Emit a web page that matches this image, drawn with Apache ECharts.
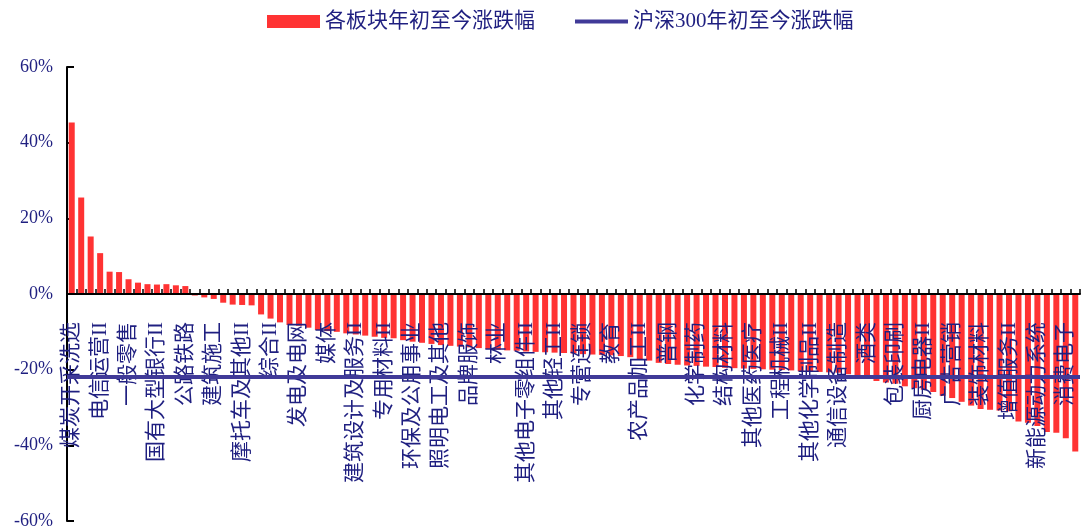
<!DOCTYPE html>
<html>
<head>
<meta charset="utf-8">
<script src="https://cdn.jsdelivr.net/npm/echarts@6/dist/echarts.min.js"></script>
<style>
  html, body { margin: 0; padding: 0; background: #ffffff; }
  #chart { width: 1082px; height: 532px; }
</style>
</head>
<body>
<div id="chart"></div>
<script>
// Industry names printed on the axis (every third sector)
const labelNames = [
  '煤炭开采洗选', '电信运营II', '一般零售', '国有大型银行II', '公路铁路', '建筑施工',
  '摩托车及其他II', '综合II', '发电及电网', '媒体', '建筑设计及服务II', '专用材料II',
  '环保及公用事业', '照明电工及其他', '品牌服饰', '林业', '其他电子零组件II', '其他轻工II',
  '专营连锁', '教育', '农产品加工II', '普钢', '化学制药', '结构材料',
  '其他医药医疗', '工程机械II', '其他化学制品II', '通信设备制造', '酒类', '包装印刷',
  '厨房电器II', '广告营销', '装饰材料', '增值服务II', '新能源动力系统', '消费电子'
];

// Year-to-date change of each sector (%), sorted from best to worst
const sectorChange = [
  45.3, 25.5, 15.2, 10.8, 5.9, 5.8, 3.9, 3.0, 2.6, 2.5,
  2.6, 2.3, 2.1, -0.4, -0.9, -1.3, -2.3, -2.8, -2.9, -3.0,
  -5.4, -6.5, -7.5, -8.2, -8.4, -8.9, -9.5, -9.8, -10.0, -10.4,
  -10.7, -11.0, -11.3, -11.6, -11.7, -12.2, -12.6, -12.9, -13.2, -13.5,
  -13.7, -13.9, -14.1, -14.3, -14.5, -14.7, -14.9, -15.0, -15.2, -15.3,
  -15.4, -15.5, -15.6, -15.7, -15.9, -16.0, -16.1, -16.2, -16.4, -16.7,
  -17.2, -17.6, -18.2, -18.5, -18.7, -18.9, -19.0, -19.2, -19.3, -19.5,
  -19.6, -19.7, -19.8, -19.9, -20.0, -20.1, -20.2, -20.4, -20.5, -20.6,
  -20.7, -20.8, -21.2, -21.7, -22.1, -23.0, -23.4, -23.7, -24.4, -24.9,
  -25.3, -25.9, -26.9, -27.5, -28.5, -29.5, -30.4, -30.6, -30.8, -31.0,
  -33.7, -34.0, -34.9, -36.5, -36.7, -38.1, -41.6
];

// CSI 300 year-to-date change (%)
const hs300Change = -22.0;

// Y axis ticks (%)
const yTicks = { min: -60, max: 60, step: 20 };

const seriesNames = ['各板块年初至今涨跌幅', '沪深300年初至今涨跌幅'];

// one category per sector; only every third one carries a printed name
const categories = sectorChange.map((_, i) => 'S' + i);
const axisName = (i) => (i % 3 === 0 ? labelNames[i / 3] : '');

const navy = '#1f1f80';
const lineBlue = '#403a98';
const serifCJK = '"Liberation Serif", "Noto Sans CJK SC", serif';

// plot box
const gridTop = 67, gridBottom = 11, chartH = 532;
const plotH = chartH - gridTop - gridBottom;
// distance from the bottom edge of the plot up to the 0% level
const zeroLift = plotH * (0 - yTicks.min) / (yTicks.max - yTicks.min);

const chart = echarts.init(document.getElementById('chart'));
chart.setOption({
  animation: false,
  backgroundColor: '#ffffff',
  legend: {
    top: 6,
    left: 262,
    itemWidth: 53,
    itemHeight: 13,
    itemGap: 40,
    textStyle: { color: navy, fontSize: 21, fontFamily: serifCJK },
    data: [
      { name: seriesNames[0], icon: 'rect' },
      { name: seriesNames[1], icon: 'path://M0,0L53,0L53,4L0,4Z', itemStyle: { color: lineBlue } }
    ]
  },
  grid: {
    left: 67,
    right: 2,
    top: gridTop,
    bottom: gridBottom,
    containLabel: false,
    outerBoundsMode: 'none'
  },
  xAxis: [
    {
      // category axis drawn along the 0% level: line and ticks
      type: 'category',
      data: categories,
      position: 'bottom',
      z: 3,
      axisLine: { onZero: true, lineStyle: { color: '#000000', width: 2 } },
      axisTick: { show: true, inside: true, interval: 0, length: 5, lineStyle: { color: '#000000', width: 1.5 } },
      axisLabel: { show: false },
      splitLine: { show: false }
    },
    {
      // same categories, carrying the sector names just under the 0% level
      type: 'category',
      data: categories,
      position: 'bottom',
      offset: -zeroLift,
      z: 3,
      axisLine: { show: false, onZero: false },
      axisTick: { show: false },
      axisLabel: {
        show: true,
        interval: 0,
        hideOverlap: false,
        rotate: 90,
        margin: 28,
        padding: [10, 0, 0, 0],
        color: navy,
        fontSize: 21,
        fontFamily: serifCJK,
        formatter: (value, index) => axisName(index)
      },
      splitLine: { show: false }
    }
  ],
  yAxis: {
    type: 'value',
    min: yTicks.min,
    max: yTicks.max,
    interval: yTicks.step,
    axisLine: { show: true, lineStyle: { color: '#000000', width: 2 } },
    axisTick: { show: true, inside: true, length: 7, lineStyle: { color: '#000000', width: 2 } },
    axisLabel: {
      formatter: '{value}%',
      color: navy,
      fontSize: 18,
      margin: 14,
      fontFamily: serifCJK
    },
    splitLine: { show: false }
  },
  series: [
    {
      name: seriesNames[0],
      type: 'bar',
      xAxisIndex: 0,
      data: sectorChange,
      barWidth: 6,
      itemStyle: { color: '#ff3333' }
    },
    {
      name: seriesNames[1],
      type: 'line',
      xAxisIndex: 0,
      data: [],
      z: 5,
      symbol: 'none',
      lineStyle: { color: lineBlue, width: 4 },
      itemStyle: { color: lineBlue },
      markLine: {
        silent: true,
        symbol: 'none',
        label: { show: false },
        lineStyle: { color: lineBlue, width: 4, type: 'solid', opacity: 1 },
        emphasis: { disabled: true },
        data: [{ yAxis: hs300Change }]
      }
    }
  ]
});
</script>
</body>
</html>
